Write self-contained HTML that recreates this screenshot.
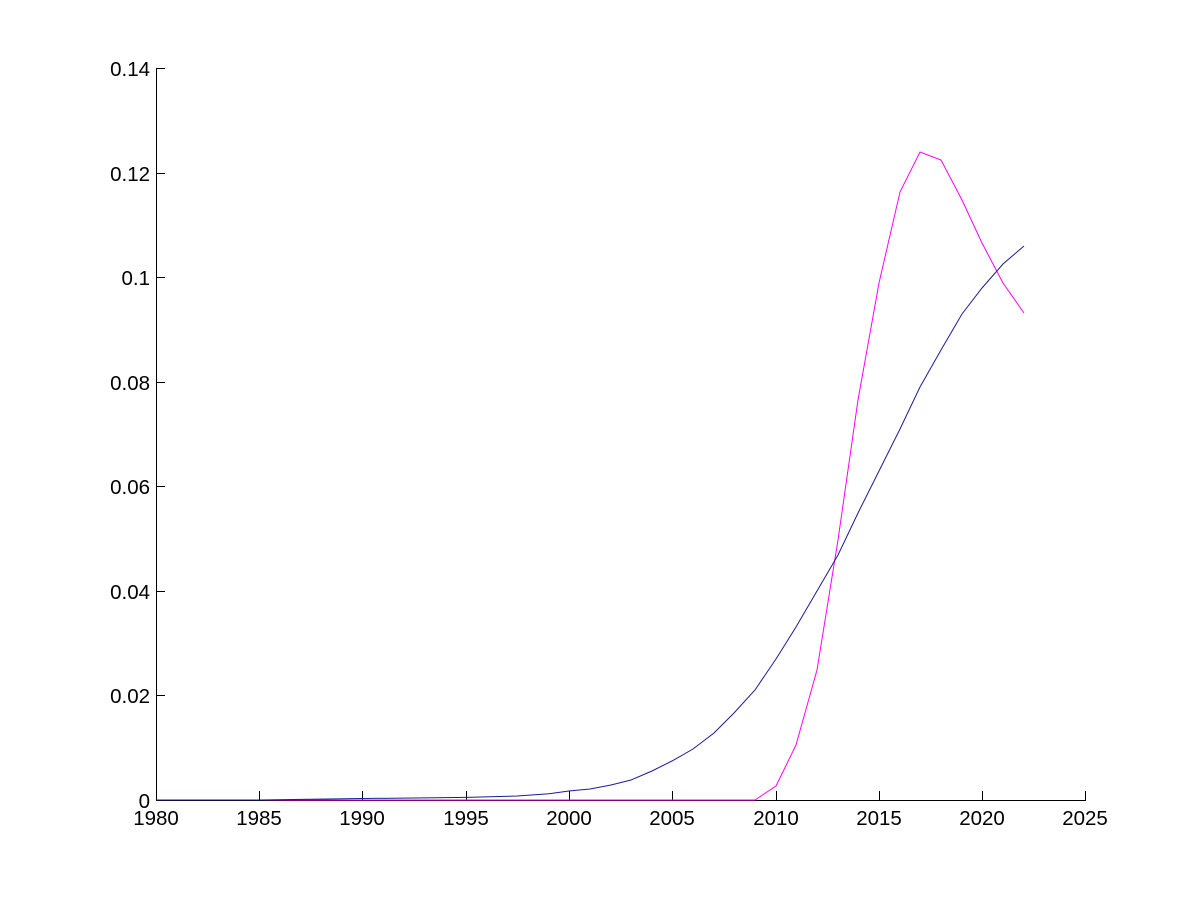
<!DOCTYPE html>
<html><head><meta charset="utf-8"><style>body{margin:0;background:#fff}svg{display:block}</style></head>
<body>
<svg width="1200" height="900" xmlns="http://www.w3.org/2000/svg" font-family="Liberation Sans, sans-serif" font-size="20.5">
<rect width="1200" height="900" fill="#fff"/>
<g stroke="#000" stroke-width="1" fill="none">
<line x1="156.5" y1="68" x2="156.5" y2="800"/>
<line x1="156" y1="800.5" x2="1086" y2="800.5"/>
<line x1="156" y1="68.5" x2="165" y2="68.5"/>
<line x1="156" y1="173.5" x2="165" y2="173.5"/>
<line x1="156" y1="277.5" x2="165" y2="277.5"/>
<line x1="156" y1="382.5" x2="165" y2="382.5"/>
<line x1="156" y1="486.5" x2="165" y2="486.5"/>
<line x1="156" y1="591.5" x2="165" y2="591.5"/>
<line x1="156" y1="695.5" x2="165" y2="695.5"/>
<line x1="259.5" y1="800" x2="259.5" y2="791"/>
<line x1="362.5" y1="800" x2="362.5" y2="791"/>
<line x1="466.5" y1="800" x2="466.5" y2="791"/>
<line x1="569.5" y1="800" x2="569.5" y2="791"/>
<line x1="672.5" y1="800" x2="672.5" y2="791"/>
<line x1="776.5" y1="800" x2="776.5" y2="791"/>
<line x1="879.5" y1="800" x2="879.5" y2="791"/>
<line x1="982.5" y1="800" x2="982.5" y2="791"/>
<line x1="1085.5" y1="800" x2="1085.5" y2="791"/>
</g>
<g text-anchor="end">
<text x="150" y="76">0.14</text><text x="150" y="181">0.12</text><text x="150" y="285">0.1</text>
<text x="150" y="390">0.08</text><text x="150" y="494">0.06</text><text x="150" y="599">0.04</text>
<text x="150" y="703">0.02</text><text x="150" y="808">0</text>
</g>
<g text-anchor="middle">
<text x="156" y="825">1980</text><text x="259" y="825">1985</text><text x="362" y="825">1990</text>
<text x="466" y="825">1995</text><text x="569" y="825">2000</text><text x="672" y="825">2005</text>
<text x="776" y="825">2010</text><text x="879" y="825">2015</text><text x="982" y="825">2020</text>
<text x="1085" y="825">2025</text>
</g>
<polyline fill="none" stroke="#f0f" stroke-width="1" points="156,800 755,800 776,786 796,745 817,670 838,540 858,400 879,283 900,192 920,152 941,160 962,200 982,243 1003,283 1024,313"/>
<polyline fill="none" stroke="#1c1c96" stroke-width="1" points="156,800 259,800 310,799.2 362,798.5 414,798 466,797.4 517,796 549,793.8 569,791 590,789 611,785 631,780 652,771 672,761 693,749 714,733 734,713 755,690 776,659 796,627 817,591 838,555 858,513 879,471 900,429 920,387 941,350 962,314 982,288 1003,264 1024,246"/>
</svg>
</body></html>
